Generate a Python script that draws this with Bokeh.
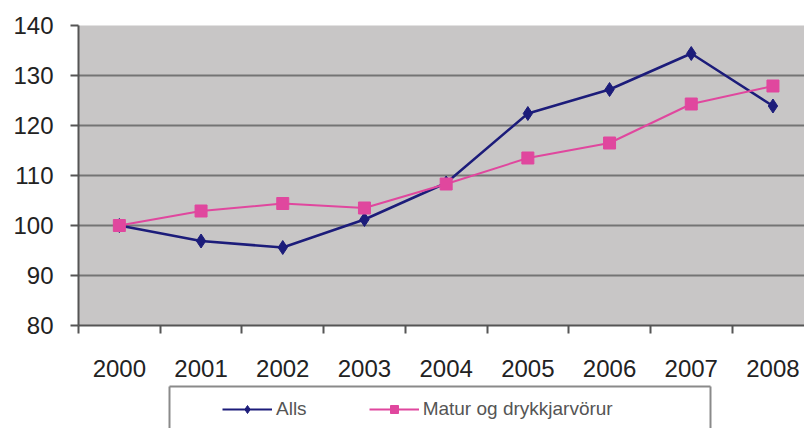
from bokeh.plotting import figure
from bokeh.layouts import column
from bokeh.models import ColumnDataSource, FixedTicker, Legend, LegendItem, Range1d, LinearAxis
from bokeh.embed import file_html
from bokeh.resources import INLINE

years = ["2000", "2001", "2002", "2003", "2004", "2005", "2006", "2007", "2008"]
alls = [100.0, 96.9, 95.6, 101.2, 108.5, 122.4, 127.2, 134.4, 123.9]
matur = [100.0, 102.9, 104.4, 103.5, 108.3, 113.5, 116.5, 124.3, 127.9]
y_ticks = [80, 90, 100, 110, 120, 130, 140]
series_names = ["Alls", "Matur og drykkjarvörur"]

ALLS_COLOR = "#1c1c7a"
MATUR_COLOR = "#e0479e"
FONT = "Liberation Sans"
AXIS_GRAY = "#555555"

xs = list(range(len(years)))
src = ColumnDataSource(dict(x=xs, alls=alls, matur=matur))

# ---------------- main chart ----------------
p = figure(width=804, height=385, output_backend="svg", toolbar_location=None,
           x_range=Range1d(-0.5, 8.386), y_range=Range1d(80, 140),
           min_border_left=78, min_border_right=0, min_border_top=25, min_border_bottom=60)
p.frame_align = False
p.background_fill_color = "#c8c6c6"
p.border_fill_color = "white"
p.outline_line_color = None

p.xaxis.ticker = FixedTicker(ticks=xs, minor_ticks=[i - 0.5 for i in range(len(years))])
p.xaxis.major_label_overrides = {i: y for i, y in enumerate(years)}
p.xaxis.major_tick_line_color = None
p.xaxis.minor_tick_out = 8
p.xaxis.minor_tick_in = 0
p.xaxis.minor_tick_line_color = AXIS_GRAY
p.xaxis.minor_tick_line_width = 2
p.xaxis.major_label_standoff = 26
p.xaxis.axis_line_color = AXIS_GRAY
p.xaxis.axis_line_width = 2
p.xgrid.grid_line_color = None

p.yaxis.ticker = FixedTicker(ticks=y_ticks)
p.yaxis.minor_tick_line_color = None
p.yaxis.major_tick_out = 8
p.yaxis.major_tick_in = 0
p.yaxis.major_tick_line_color = AXIS_GRAY
p.yaxis.major_tick_line_width = 2
p.yaxis.major_label_standoff = 17
p.yaxis.axis_line_color = AXIS_GRAY
p.yaxis.axis_line_width = 2
p.ygrid.grid_line_color = "#747474"
p.ygrid.grid_line_width = 2

for ax in (p.xaxis, p.yaxis):
    ax.major_label_text_font = FONT
    ax.major_label_text_font_size = "24px"
    ax.major_label_text_color = "#222222"

p.line("x", "alls", source=src, line_color=ALLS_COLOR, line_width=2.5)
p.scatter("x", "alls", source=src, marker="diamond", size=14,
          fill_color=ALLS_COLOR, line_color=ALLS_COLOR)
p.line("x", "matur", source=src, line_color=MATUR_COLOR, line_width=2)
p.scatter("x", "matur", source=src, marker="square", size=12,
          fill_color=MATUR_COLOR, line_color=MATUR_COLOR)

# ---------------- legend strip (box cut off by the window bottom) ----------------
lg = figure(width=804, height=43, output_backend="svg", toolbar_location=None,
            x_range=Range1d(0, 1), y_range=Range1d(0, 1),
            x_axis_location="above", y_axis_location="left",
            min_border_left=169, min_border_right=94, min_border_top=1, min_border_bottom=0)
lg.frame_align = False
lg.background_fill_color = "white"
lg.border_fill_color = "white"
lg.outline_line_color = None
lg.grid.grid_line_color = None
lg.add_layout(LinearAxis(), "right")
for ax in lg.axis:
    ax.ticker = FixedTicker(ticks=[])
    ax.major_tick_line_color = None
    ax.minor_tick_line_color = None
    ax.major_label_text_color = None
    ax.axis_line_color = "#8a8a8a"
    ax.axis_line_width = 2

# glyphs outside the visible ranges: only their legend samples show
l1 = lg.line("x", "alls", source=src, line_color=ALLS_COLOR, line_width=2)
m1 = lg.scatter("x", "alls", source=src, marker="diamond", size=12,
                fill_color=ALLS_COLOR, line_color=ALLS_COLOR)
l2 = lg.line("x", "matur", source=src, line_color=MATUR_COLOR, line_width=2)
m2 = lg.scatter("x", "matur", source=src, marker="square", size=10,
                fill_color=MATUR_COLOR, line_color=MATUR_COLOR)

legend = Legend(items=[LegendItem(label=series_names[0], renderers=[l1, m1]),
                       LegendItem(label=series_names[1], renderers=[l2, m2])],
                orientation="horizontal", location=(53, 8))
legend.label_text_font = FONT
legend.label_text_font_size = "19px"
legend.label_text_color = "#555555"
legend.glyph_width = 50
legend.glyph_height = 20
legend.label_height = 20
legend.label_standoff = 4
legend.spacing = 62
legend.padding = 0
legend.margin = 0
legend.border_line_color = None
legend.background_fill_alpha = 0
lg.add_layout(legend, "center")

layout = column(p, lg, spacing=0)
open("out.html", "w").write(file_html(layout, INLINE))
